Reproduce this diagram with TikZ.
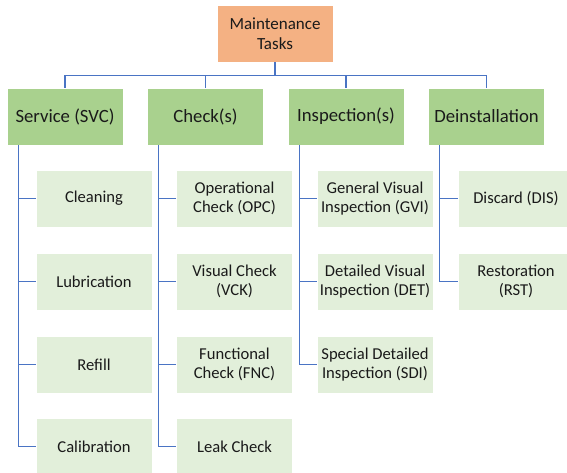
\documentclass[tikz,border=0pt]{standalone}
\usepackage{fontspec}
\setmainfont{Carlito}
\definecolor{rootfill}{HTML}{F4B183}
\definecolor{lonefill}{HTML}{A9D18E}
\definecolor{kidfill}{HTML}{E2EFDA}
\definecolor{linkcol}{HTML}{4A74C4}
\definecolor{txt}{HTML}{1A1A1A}
\tikzset{
  box/.style={draw=white, line width=0.6pt, inner sep=0pt, align=center, text=txt,
    minimum width=116pt, minimum height=57pt},
  rootbox/.style={box, fill=rootfill, font=\fontsize{17}{19.5}\selectfont},
  lonebox/.style={box, fill=lonefill, font=\fontsize{18.7}{22}\selectfont},
  kidbox/.style={box, fill=kidfill, font=\fontsize{16.6}{18.8}\selectfont},
  link/.style={draw=linkcol, line width=1.1pt}
}
\begin{document}
\begin{tikzpicture}[x=1pt,y=-1pt]
\clip (0,0) rectangle (567,473);
\fill[white] (0,0) rectangle (567,473);
% root
\node[rootbox] (root) at (275,33.5) {Maintenance\\Tasks};
% level 1
\node[lonebox] (svc) at (65,116.5) {Service (SVC)};
\node[lonebox] (chk) at (205.5,116.5) {Check(s)};
\node[lonebox] (ins) at (346,116.5) {Inspection(s)};
\node[lonebox] (dei) at (486.5,116.5) {Deinstallation};
% children
\node[kidbox] (s1) at (94,198.5) {Cleaning};
\node[kidbox] (s2) at (94,281.5) {Lubrication};
\node[kidbox] (s3) at (94,364.5) {Refill};
\node[kidbox] (s4) at (94,446.5) {Calibration};
\node[kidbox] (c1) at (234.5,198.5) {Operational\\Check (OPC)};
\node[kidbox] (c2) at (234.5,281.5) {Visual Check\\(VCK)};
\node[kidbox] (c3) at (234.5,364.5) {Functional\\Check (FNC)};
\node[kidbox] (c4) at (234.5,446.5) {Leak Check};
\node[kidbox] (i1) at (375,198.5) {General Visual\\Inspection (GVI)};
\node[kidbox] (i2) at (375,281.5) {Detailed Visual\\Inspection (DET)};
\node[kidbox] (i3) at (375,364.5) {Special Detailed\\Inspection (SDI)};
\node[kidbox] (d1) at (516,198.5) {Discard (DIS)};
\node[kidbox] (d2) at (516,281.5) {Restoration\\(RST)};
% root to level 1
\coordinate (bus) at ([yshift=-13pt]root.south);
\foreach \n in {svc,chk,ins,dei}
  \draw[link] (root.south) -- (bus) -| (\n.north);
% spines
\coordinate (sv) at ([xshift=11.5pt]svc.south west);
\coordinate (ck) at ([xshift=11.5pt]chk.south west);
\coordinate (in) at ([xshift=11.5pt]ins.south west);
\coordinate (de) at ([xshift=11.5pt]dei.south west);
\draw[link] (sv) |- (s4.west);
\foreach \n in {s1,s2,s3} \draw[link] (\n.west) -- (\n.west -| sv);
\draw[link] (ck) |- (c4.west);
\foreach \n in {c1,c2,c3} \draw[link] (\n.west) -- (\n.west -| ck);
\draw[link] (in) |- (i3.west);
\foreach \n in {i1,i2} \draw[link] (\n.west) -- (\n.west -| in);
\draw[link] (de) |- (d2.west);
\draw[link] (d1.west) -- (d1.west -| de);
\end{tikzpicture}
\end{document}
